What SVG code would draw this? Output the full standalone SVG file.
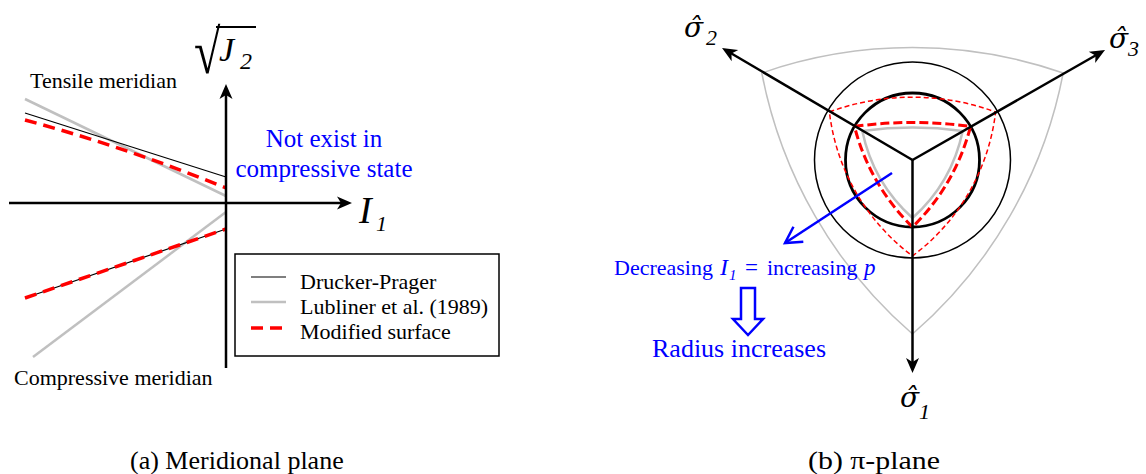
<svg xmlns="http://www.w3.org/2000/svg" width="1146" height="474" viewBox="0 0 1146 474">
<style>
text{font-family:"Liberation Serif","Times New Roman",serif;fill:#000}
.blue{fill:#0000ff}
.it{font-style:italic}
.sig{font-family:"DejaVu Serif",serif;font-style:italic}
.ax{stroke:#000;stroke-width:2.5;fill:none}
.dp{stroke:#000;stroke-width:1.2;fill:none}
.lub{stroke:#c0c0c0;stroke-width:2.5;fill:none}
.mod{stroke:#ff0000;stroke-width:3.5;fill:none;stroke-dasharray:12 7}
.thinred{stroke:#ff0000;stroke-width:1.5;fill:none;stroke-dasharray:5 3}
.thickred{stroke:#ff0000;stroke-width:3;fill:none;stroke-dasharray:9 4}
</style>
<defs>
<marker id="ah" markerUnits="userSpaceOnUse" markerWidth="20" markerHeight="16" refX="10" refY="8" orient="auto" overflow="visible">
<path d="M16,8 L1,1.5 L5,8 L1,14.5 Z" fill="#000"/>
</marker>
<marker id="bh" markerUnits="userSpaceOnUse" markerWidth="24" markerHeight="24" refX="18" refY="11" orient="auto" overflow="visible">
<path d="M2,2 L18,11 L2,20" fill="none" stroke="#0000ff" stroke-width="2.5"/>
</marker>
</defs>
<rect width="1146" height="474" fill="#fff"/>

<!-- (a) Meridional plane -->
<g id="meridional-curves">
<line class="lub" x1="25" y1="99" x2="226" y2="196"/>
<line class="dp" x1="25" y1="113" x2="226" y2="177"/>
<path class="mod" d="M25,120 Q125.5,147 226,188"/>
<line class="lub" x1="33" y1="357" x2="226" y2="212"/>
<line class="dp" x1="25" y1="298" x2="226" y2="229"/>
<line class="mod" x1="25" y1="298" x2="226" y2="229"/>
</g>
<g id="meridional-axes">
<line class="ax" x1="226" y1="368" x2="226" y2="90" marker-end="url(#ah)"/>
<line class="ax" x1="9" y1="203" x2="346" y2="203" marker-end="url(#ah)"/>
</g>
<g id="label-sqrtJ2">
<text transform="translate(194,73) scale(1,1.3)" font-size="48">√</text>
<line x1="216" y1="27" x2="256" y2="27" stroke="#000" stroke-width="2"/>
<text x="219" y="61" font-size="34" class="it">J</text>
<text x="240" y="69" font-size="24" class="it">2</text>
</g>
<g id="label-I1">
<text x="359" y="223" font-size="38" class="it">I</text>
<text x="376" y="231" font-size="22" class="it">1</text>
</g>
<g id="label-tensile"><text x="30" y="88" font-size="22">Tensile meridian</text></g>
<g id="label-compressive"><text x="14" y="385" font-size="22">Compressive meridian</text></g>
<g id="note-not-exist">
<text x="324" y="147" font-size="25" text-anchor="middle" class="blue">Not exist in</text>
<text x="324" y="177" font-size="25" text-anchor="middle" class="blue">compressive state</text>
</g>
<g id="legend">
<rect x="235" y="254" width="264" height="102" fill="#fff" stroke="#000" stroke-width="1.5"/>
<line class="dp" x1="251" y1="277" x2="286" y2="277"/>
<text x="300" y="289" font-size="22">Drucker-Prager</text>
<line class="lub" x1="251" y1="302" x2="286" y2="302"/>
<text x="300" y="314" font-size="22">Lubliner et al. (1989)</text>
<line class="mod" x1="251" y1="328" x2="286" y2="328"/>
<text x="300" y="339" font-size="22">Modified surface</text>
</g>
<g id="caption-a"><text x="130" y="469" font-size="26">(a) Meridional plane</text></g>

<!-- (b) pi-plane -->
<g id="pi-surfaces">
<path stroke="#c0c0c0" stroke-width="1.5" fill="none" d="M761.8,73 A460,460 0 0 1 1063.2,73 A460,460 0 0 1 912.5,334 A460,460 0 0 1 761.8,73 Z"/>
<circle cx="912.5" cy="160" r="98" fill="none" stroke="#000" stroke-width="1.5"/>
<circle cx="912.5" cy="160" r="67" fill="none" stroke="#000" stroke-width="2.8"/>
<path stroke="#c0c0c0" stroke-width="2.5" fill="none" d="M862.3,131 A372,372 0 0 1 962.7,131 A161,161 0 0 1 912.5,218 A161,161 0 0 1 862.3,131 Z"/>
<path class="thinred" d="M829.4,112 A240,240 0 0 1 995.6,112 A210,210 0 0 1 912.5,256 A210,210 0 0 1 829.4,112 Z"/>
<path class="thickred" d="M854.5,126.5 A420,420 0 0 1 970.5,126.5 A214,214 0 0 1 912.5,227 A214,214 0 0 1 854.5,126.5 Z"/>
</g>
<g id="pi-axes">
<line class="ax" x1="912.5" y1="160" x2="912.5" y2="367" marker-end="url(#ah)"/>
<line class="ax" x1="912.5" y1="160" x2="727.2" y2="51" marker-end="url(#ah)"/>
<line class="ax" x1="912.5" y1="160" x2="1099.8" y2="53" marker-end="url(#ah)"/>
</g>
<g id="label-sigma2">
<text x="684" y="37" font-size="28" class="sig">σ̂</text>
<text x="706" y="45" font-size="22" class="it">2</text>
</g>
<g id="label-sigma3">
<text x="1109" y="48" font-size="28" class="sig">σ̂</text>
<text x="1128" y="56" font-size="22" class="it">3</text>
</g>
<g id="label-sigma1">
<text x="900" y="407" font-size="28" class="sig">σ̂</text>
<text x="919" y="419" font-size="22" class="it">1</text>
</g>
<g id="connectors">
<line x1="892" y1="173" x2="785" y2="243" stroke="#0000ff" stroke-width="2.5" marker-end="url(#bh)"/>
<polygon points="741,288 755,288 755,319 763,319 748,335 733,319 741,319" fill="#fff" stroke="#0000ff" stroke-width="2.5"/>
</g>
<g id="note-decreasing">
<text y="275" font-size="22" class="blue"><tspan x="614">Decreasing</tspan><tspan x="720" font-size="24" class="it">I</tspan><tspan x="729" dy="5" font-size="15" class="it">1</tspan><tspan x="745" dy="-5" font-size="23">=</tspan><tspan x="767">increasing</tspan><tspan x="864" font-size="23" class="it">p</tspan></text>
</g>
<g id="note-radius"><text x="652" y="357" font-size="26" class="blue">Radius increases</text></g>
<g id="caption-b"><text x="808" y="469" font-size="26" textLength="132" lengthAdjust="spacingAndGlyphs">(b) π-plane</text></g>
</svg>
